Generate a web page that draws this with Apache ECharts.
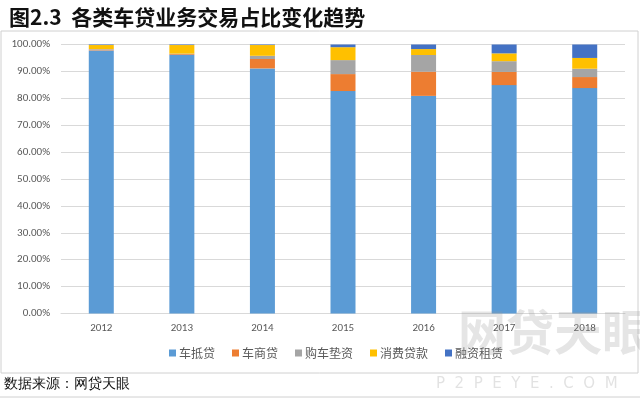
<!DOCTYPE html>
<html>
<head>
<meta charset="utf-8">
<script src="https://cdn.jsdelivr.net/npm/echarts@6/dist/echarts.min.js"></script>
<style>
  html, body { margin: 0; padding: 0; background: #fff; }
  #main { width: 640px; height: 398px; }
</style>
</head>
<body>
<div id="main"></div>
<script>
const years = ['2012', '2013', '2014', '2015', '2016', '2017', '2018'];
// shares in percent
const cheDi = [97.8, 96.1, 91.1, 82.7, 80.9, 84.9, 83.8];
const cheShang = [0.3, 0.3, 3.5, 6.3, 9.0, 4.9, 4.1];
const gouChe = [0.2, 0.2, 1.2, 5.2, 6.2, 4.0, 3.1];
const xiaoFei = [1.5, 3.2, 4.0, 4.8, 2.2, 2.9, 4.0];
const rongZi = [0.2, 0.2, 0.2, 1.0, 1.7, 3.3, 5.0];
const yTicks = [0, 10, 20, 30, 40, 50, 60, 70, 80, 90, 100];

const chartDom = document.getElementById('main');
const myChart = echarts.init(chartDom);

const cjk = '"Noto Sans CJK SC", sans-serif';

function bar(name, data, color) {
  return {
    name: name,
    type: 'bar',
    stack: 'total',
    barWidth: 25,
    data: data,
    itemStyle: { color: color }
  };
}

const option = {
  animation: false,
  backgroundColor: '#fff',
  textStyle: { fontFamily: cjk },
  title: {
    text: '图2.3  各类车贷业务交易占比变化趋势',
    left: 4,
    top: 2,
    textStyle: { fontSize: 21, fontWeight: 'bold', color: '#111', fontFamily: cjk }
  },
  legend: {
    bottom: 34,
    left: 164,
    itemWidth: 7,
    itemHeight: 7,
    itemGap: 17,
    icon: 'rect',
    textStyle: { fontSize: 12, color: '#595959', padding: [0, 0, 0, -2] },
    data: ['车抵贷', '车商贷', '购车垫资', '消费贷款', '融资租赁']
  },
  grid: { left: 61, right: 15, top: 44.5, bottom: 84.5 },
  xAxis: {
    type: 'category',
    data: years,
    axisTick: { show: false },
    axisLine: { lineStyle: { color: '#d9d9d9' } },
    axisLabel: { color: '#595959', fontSize: 11, margin: 9, fontFamily: 'Calibri, "Liberation Sans", sans-serif' }
  },
  yAxis: {
    type: 'value',
    min: yTicks[0],
    max: yTicks[yTicks.length - 1],
    interval: 10,
    axisLine: { show: false },
    axisTick: { show: false },
    splitLine: { lineStyle: { color: '#d9d9d9' } },
    axisLabel: {
      color: '#595959',
      fontSize: 11,
      margin: 11,
      fontFamily: 'Calibri, "Liberation Sans", sans-serif',
      formatter: v => v.toFixed(2) + '%'
    }
  },
  graphic: [
    { type: 'rect', shape: { x: 1, y: 31, width: 637, height: 342 }, style: { fill: 'none', stroke: '#d0d0d0', lineWidth: 1 }, silent: true },
    { type: 'line', shape: { x1: 0, y1: 397, x2: 640, y2: 397 }, style: { stroke: '#d0d0d0', lineWidth: 1 }, silent: true },
    { type: 'text', left: 4, top: 377, style: { text: '数据来源：网贷天眼', fontSize: 14, fill: '#111', font: '14px "Noto Sans CJK SC"' } },
    { type: 'text', left: 458, top: 308, z: 100, style: { text: '网贷天眼', font: 'bold 48px "Noto Sans CJK SC"', fill: 'rgba(150,150,150,0.25)' }, silent: true },
    { type: 'text', left: 436, top: 377, z: 100, style: { text: 'P  2  P  E  Y  E  .  C  O  M', font: '15px "DejaVu Sans"', fill: 'rgba(150,150,150,0.28)' }, silent: true }
  ],
  series: [
    bar('车抵贷', cheDi, '#5b9bd5'),
    bar('车商贷', cheShang, '#ed7d31'),
    bar('购车垫资', gouChe, '#a5a5a5'),
    bar('消费贷款', xiaoFei, '#ffc000'),
    bar('融资租赁', rongZi, '#4472c4')
  ]
};

option && myChart.setOption(option);
</script>
</body>
</html>
